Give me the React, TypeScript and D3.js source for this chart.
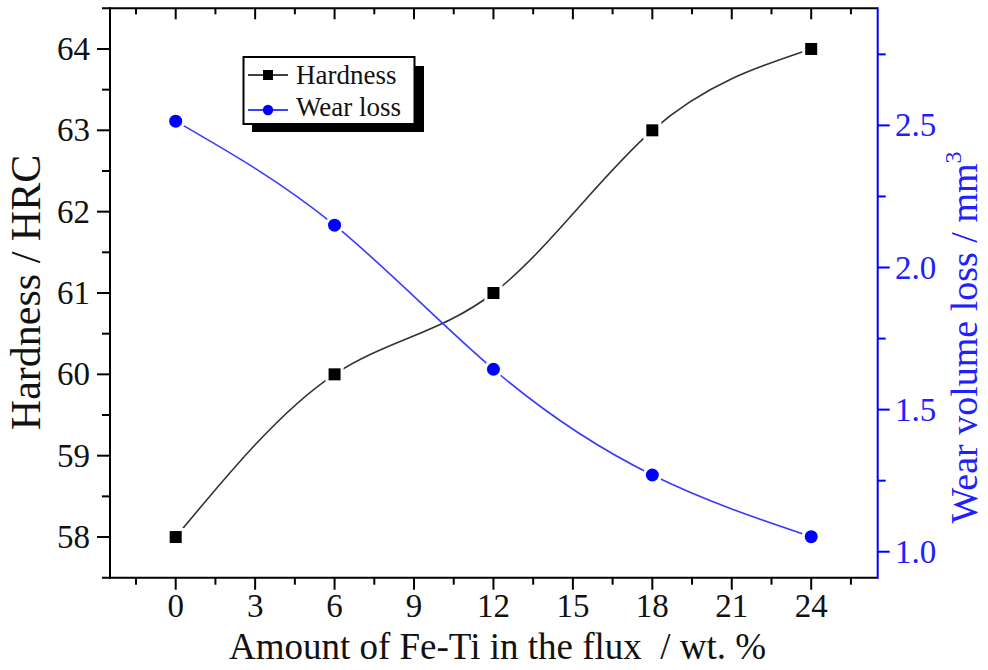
import React from "react";
import * as d3 from "d3";

const fetiAmount = [0, 6, 12, 18, 24];
const hardness = [58, 60, 61, 63, 64];
const wearLoss = [2.515, 2.149, 1.642, 1.27, 1.053];
const xMajorTicks = [0, 3, 6, 9, 12, 15, 18, 21, 24];
const xMinorTicks = [-1.5, 1.5, 4.5, 7.5, 10.5, 13.5, 16.5, 19.5, 22.5, 25.5];
const leftMajorTicks = [58, 59, 60, 61, 62, 63, 64];
const leftMinorTicks = [58.5, 59.5, 60.5, 61.5, 62.5, 63.5];
const rightMajorTicks = [1.0, 1.5, 2.0, 2.5];
const rightMinorTicks = [1.25, 1.75, 2.25, 2.75];
const seriesNames = ["Hardness", "Wear loss"];

const FONT = "'Liberation Serif', 'Times New Roman', serif";
const BLUE = "#0000ff";

export default function App() {
  const left = 110, right = 877.7, top = 8.3, bottom = 577.7;
  const x = d3.scaleLinear().domain([-2.5, 26.5]).range([109.5, 877.4]);
  const yL = d3.scaleLinear().domain([57.5, 64.5]).range([bottom, top]);
  const yR = d3.scaleLinear().domain([0.9086, 2.912]).range([bottom, top]);

  const hPts = fetiAmount.map((v, i) => [x(v), yL(hardness[i])] as [number, number]);
  const wPts = fetiAmount.map((v, i) => [x(v), yR(wearLoss[i])] as [number, number]);
  const line = d3.line().curve(d3.curveNatural);

  const tickW = 2;
  const lblSize = 33;

  return (
    <svg width={988} height={670} style={{ position: "absolute", left: 0, top: 0, background: "#fff" }}
      fontFamily={FONT}>
      <rect x={0} y={0} width={988} height={670} fill="#fff" />
      {/* curves */}
      <path d={line(hPts) || ""} fill="none" stroke="#333" strokeWidth={1.6} />
      <path d={line(wPts) || ""} fill="none" stroke="#3a3aff" strokeWidth={1.6} />
      {/* marker halos */}
      {hPts.map((p, i) => (
        <rect key={"hh" + i} x={p[0] - 9} y={p[1] - 9} width={18} height={18} fill="#fff" />
      ))}
      {wPts.map((p, i) => (
        <circle key={"wh" + i} cx={p[0]} cy={p[1]} r={9.5} fill="#fff" />
      ))}
      {hPts.map((p, i) => (
        <rect key={"hm" + i} x={p[0] - 6} y={p[1] - 6} width={12} height={12} fill="#000" />
      ))}
      {wPts.map((p, i) => (
        <circle key={"wm" + i} cx={p[0]} cy={p[1]} r={6.5} fill={BLUE} />
      ))}

      {/* frame */}
      <line x1={102} x2={right} y1={top} y2={top} stroke="#000" strokeWidth={2} />
      <line x1={102} x2={right} y1={bottom} y2={bottom} stroke="#000" strokeWidth={2} />
      <line x1={left} x2={left} y1={top - 1} y2={bottom + 1} stroke="#000" strokeWidth={2} />
      <line x1={right} x2={right} y1={top - 1} y2={bottom + 1} stroke={BLUE} strokeWidth={2} />

      {/* bottom axis ticks */}
      {xMajorTicks.map((t) => (
        <g key={"xb" + t}>
          <line x1={x(t)} x2={x(t)} y1={bottom} y2={bottom + 12} stroke="#000" strokeWidth={tickW} />
          <line x1={x(t)} x2={x(t)} y1={top} y2={top + 11} stroke="#000" strokeWidth={tickW} />
          <text x={x(t)} y={617} textAnchor="middle" fontSize={lblSize} fill="#111">{t}</text>
        </g>
      ))}
      {xMinorTicks.map((t) => (
        <g key={"xm" + t}>
          <line x1={x(t)} x2={x(t)} y1={bottom} y2={bottom + 7} stroke="#000" strokeWidth={tickW} />
          <line x1={x(t)} x2={x(t)} y1={top} y2={top + 6} stroke="#000" strokeWidth={tickW} />
        </g>
      ))}

      {/* left axis ticks */}
      {leftMajorTicks.map((t) => (
        <g key={"yl" + t}>
          <line x1={left - 13} x2={left} y1={yL(t)} y2={yL(t)} stroke="#000" strokeWidth={tickW} />
          <text x={90} y={yL(t) + 11} textAnchor="end" fontSize={lblSize} fill="#111">{t}</text>
        </g>
      ))}
      {leftMinorTicks.map((t) => (
        <line key={"ylm" + t} x1={left - 8} x2={left} y1={yL(t)} y2={yL(t)} stroke="#000" strokeWidth={tickW} />
      ))}

      {/* right axis ticks */}
      {rightMajorTicks.map((t) => (
        <g key={"yr" + t}>
          <line x1={right} x2={right + 12} y1={yR(t)} y2={yR(t)} stroke={BLUE} strokeWidth={tickW} />
          <text x={895} y={yR(t) + 11} textAnchor="start" fontSize={lblSize} fill="#2020ff">{t.toFixed(1)}</text>
        </g>
      ))}
      {rightMinorTicks.map((t) => (
        <line key={"yrm" + t} x1={right} x2={right + 8} y1={yR(t)} y2={yR(t)} stroke={BLUE} strokeWidth={tickW} />
      ))}

      {/* axis titles */}
      <text x={497.5} y={659} textAnchor="middle" fontSize={37} fill="#111" style={{ whiteSpace: "pre" }}>
        {"Amount of Fe-Ti in the flux  / wt. %"}
      </text>
      <text transform="translate(40,292.5) rotate(-90)" textAnchor="middle" fontSize={42} fill="#111">
        Hardness / HRC
      </text>
      <text transform="translate(977,337.5) rotate(-90)" textAnchor="middle" fontSize={38} fill="#2020ff">
        Wear volume loss / mm<tspan fontSize={24} dy={-16}>3</tspan>
      </text>

      {/* legend */}
      <rect x={252} y={66} width={172} height={66} fill="#000" />
      <rect x={243.5} y={57} width={171} height={67} fill="#fff" stroke="#000" strokeWidth={2} />
      <line x1={248} x2={288} y1={75} y2={75} stroke="#000" strokeWidth={1.6} />
      <rect x={263} y={70} width={10} height={10} fill="#000" />
      <text x={296} y={83.5} fontSize={27} fill="#111">{seriesNames[0]}</text>
      <line x1={248} x2={288} y1={110} y2={110} stroke={BLUE} strokeWidth={1.6} />
      <circle cx={268} cy={110} r={5.2} fill={BLUE} />
      <text x={296} y={115.5} fontSize={27} fill="#111">{seriesNames[1]}</text>
    </svg>
  );
}
